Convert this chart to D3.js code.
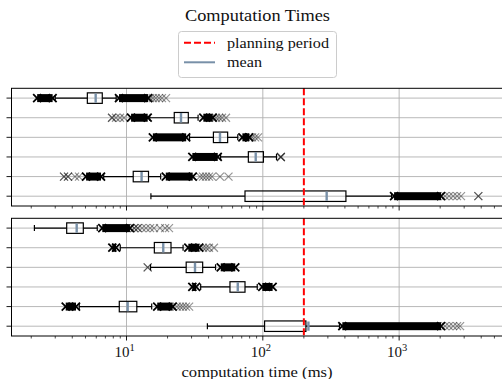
<!DOCTYPE html>
<html><head><meta charset="utf-8">
<script src="https://cdn.jsdelivr.net/npm/d3@7"></script>
<style>
html,body{margin:0;padding:0;background:#fff;}
svg text{font-family:"Liberation Serif","DejaVu Serif",serif;fill:#111;}
</style></head>
<body><svg id="chart" width="502" height="379"></svg>
<script>
// ---------- data ----------
const categories = ["c1", "c2", "c3", "c4", "c5", "c6"];
const planningPeriod = 200; // ms
const xDomain = [1.433, 5780];
const xTickValues = [10, 100, 1000];
const xTickLabels = ["1", "2", "3"]; // exponents of 10

// top panel
const topWhiskerLo = [3.0, 14.8, 29.0, 49, 6.8, 15.1];
const topQ1 = [5.16, 22.4, 43.4, 78.3, 11.2, 74.0];
const topMean = [5.94, 25.1, 48.5, 88.7, 12.9, 294];
const topQ3 = [6.64, 28.4, 55.2, 101, 14.5, 407];
const topWhiskerHi = [8.4, 33.5, 65.5, 126, 17.8, 880];
const topDenseOutliers = [
  [[2.21, 2.87], [8.81, 14.4]],
  [[10.8, 14.3], [36.6, 42.9]],
  [[15.6, 27.4], [70.8, 79.6]],
  [[30.4, 46.7]],
  [[5.05, 6.50], [19.4, 30.6]],
  [[918, 2028]]
];
const topSparseOutliers = [
  [14.9, 15.6, 16.4, 17.3, 18.2, 19.5],
  [7.83, 7.83, 8.37, 8.96, 9.59, 45.4, 47.8, 50.2, 53.7],
  [83.4, 87.8, 92.2],
  [135.5, 135.5, 135.5],
  [3.48, 3.48, 3.72, 3.72, 4.19, 4.48, 34.6, 36.4, 38.3, 40.3, 42.4, 48.5, 56.0],
  [2173, 2323, 2488, 2661, 2844, 3811, 3811]
];

// bottom panel
const botWhiskerLo = [2.11, 9.0, 15.0, 35, 4.5, 39.2];
const botQ1 = [3.64, 16.0, 27.4, 57.4, 8.85, 103];
const botMean = [4.31, 18.6, 31.8, 65.5, 10.2, 216];
const botQ3 = [4.82, 21.2, 36.2, 74.0, 11.9, 207];
const botWhiskerHi = [6.1, 26, 45, 91, 15.3, 365];
const botDenseOutliers = [
  [[6.64, 10.6]],
  [[7.87, 8.38], [28.4, 34.2]],
  [[49.1, 62.8]],
  [[30.4, 32.4], [99.1, 118]],
  [[3.58, 4.26], [16.8, 21.8]],
  [[383, 2028]]
];
const botSparseOutliers = [
  [11.4, 11.4, 12.1, 12.1, 13.0, 13.9, 14.9, 15.9, 17.6, 19.2, 20.5],
  [36.4, 38.3, 40.3, 43.8],
  [14.3, 14.3],
  [],
  [23.4, 24.7, 25.9, 27.3, 28.8],
  [2173, 2323, 2488, 2661, 2800]
];

// ---------- drawing ----------
const svg = d3.select("#chart");
const left = 11.5, right = 503;
const x = d3.scaleLog().domain(xDomain).range([left, right]);
const meanColor = "#7890a8";
const gridColor = "#b0b0b0";
const M = 4; // marker half-size

function panel(top, bottom, wLo, q1, mean, q3, wHi, dense, sparse, showLabels) {
  const g = svg.append("g");
  const y = d3.scalePoint().domain(categories).range([top, bottom]).padding(0.5);
  const boxH = 10.5, capH = 6;
  const rows = categories.map((c, i) => ({c, i}));

  g.selectAll(".vg").data(xTickValues).join("line")
    .attr("x1", d => x(d)).attr("x2", d => x(d)).attr("y1", top).attr("y2", bottom)
    .attr("stroke", gridColor).attr("stroke-width", 0.9);
  g.selectAll(".hg").data(categories).join("line")
    .attr("x1", left).attr("x2", right).attr("y1", d => y(d)).attr("y2", d => y(d))
    .attr("stroke", gridColor).attr("stroke-width", 0.9);

  const clipId = "clip" + Math.round(top);
  svg.append("clipPath").attr("id", clipId).append("rect")
    .attr("x", left).attr("y", top - 5).attr("width", right - left).attr("height", bottom - top + 10);
  const p = g.append("g").attr("clip-path", `url(#${clipId})`);

  rows.forEach(({c, i}) => {
    const cy = y(c);
    p.append("line").attr("x1", x(wLo[i])).attr("x2", x(q1[i])).attr("y1", cy).attr("y2", cy)
      .attr("stroke", "#000").attr("stroke-width", 1.2);
    p.append("line").attr("x1", x(q3[i])).attr("x2", x(wHi[i])).attr("y1", cy).attr("y2", cy)
      .attr("stroke", "#000").attr("stroke-width", 1.2);
    [wLo[i], wHi[i]].forEach(v => {
      p.append("line").attr("x1", x(v)).attr("x2", x(v)).attr("y1", cy - capH / 2).attr("y2", cy + capH / 2)
        .attr("stroke", "#000").attr("stroke-width", 1.2);
    });
    p.append("rect").attr("x", x(q1[i])).attr("y", cy - boxH / 2)
      .attr("width", x(q3[i]) - x(q1[i])).attr("height", boxH)
      .attr("fill", "none").attr("stroke", "#000").attr("stroke-width", 1.2);
    p.append("line").attr("x1", x(mean[i])).attr("x2", x(mean[i]))
      .attr("y1", cy - boxH / 2 + 0.6).attr("y2", cy + boxH / 2 - 0.6)
      .attr("stroke", meanColor).attr("stroke-width", 2.4);
    dense[i].forEach(([a, b]) => {
      p.append("rect").attr("x", x(a)).attr("y", cy - M).attr("width", x(b) - x(a)).attr("height", 2 * M)
        .attr("fill", "#000");
      [a, b].forEach(v => {
        const cx = x(v);
        p.append("path").attr("d", `M${cx - M},${cy - M}L${cx + M},${cy + M}M${cx - M},${cy + M}L${cx + M},${cy - M}`)
          .attr("stroke", "#000").attr("stroke-width", 1.8);
      });
    });
    sparse[i].forEach(v => {
      const cx = x(v);
      p.append("path").attr("d", `M${cx - M},${cy - M}L${cx + M},${cy + M}M${cx - M},${cy + M}L${cx + M},${cy - M}`)
        .attr("stroke", "#000").attr("stroke-opacity", 0.42).attr("stroke-width", 1.2);
    });
  });

  g.append("line").attr("x1", x(planningPeriod)).attr("x2", x(planningPeriod))
    .attr("y1", top).attr("y2", bottom)
    .attr("stroke", "#ff0000").attr("stroke-width", 2).attr("stroke-dasharray", "7,3");

  g.append("rect").attr("x", left).attr("y", top).attr("width", right - left).attr("height", bottom - top)
    .attr("fill", "none").attr("stroke", "#000").attr("stroke-width", 1);

  g.selectAll(".yt").data(categories).join("line")
    .attr("x1", left - 5).attr("x2", left).attr("y1", d => y(d)).attr("y2", d => y(d))
    .attr("stroke", "#000").attr("stroke-width", 0.9);

  const minor = [];
  [1, 10, 100, 1000].forEach(dec => { for (let k = 2; k <= 9; k++) { const v = dec * k; if (v >= xDomain[0] && v <= xDomain[1]) minor.push(v); } });
  g.selectAll(".mt").data(minor).join("line")
    .attr("x1", d => x(d)).attr("x2", d => x(d)).attr("y1", bottom).attr("y2", bottom + 2.5)
    .attr("stroke", "#000").attr("stroke-width", 0.7);
  g.selectAll(".Mt").data(xTickValues).join("line")
    .attr("x1", d => x(d)).attr("x2", d => x(d)).attr("y1", bottom).attr("y2", bottom + 4.5)
    .attr("stroke", "#000").attr("stroke-width", 0.9);

  if (showLabels) {
    xTickValues.forEach((v, i) => {
      const t = g.append("text").attr("x", x(v) - 2).attr("y", bottom + 21)
        .attr("text-anchor", "middle").attr("font-size", 15);
      t.append("tspan").text("10");
      t.append("tspan").attr("dy", -6).attr("font-size", 10.5).text(xTickLabels[i]);
    });
  }
}

panel(88.3, 206, topWhiskerLo, topQ1, topMean, topQ3, topWhiskerHi, topDenseOutliers, topSparseOutliers, false);
panel(218.3, 336, botWhiskerLo, botQ1, botMean, botQ3, botWhiskerHi, botDenseOutliers, botSparseOutliers, true);

function stretched(sel, width) {
  return sel.attr("textLength", width).attr("lengthAdjust", "spacingAndGlyphs");
}

stretched(svg.append("text").attr("x", 257).attr("y", 377).attr("text-anchor", "middle")
  .attr("font-size", 15).text("computation time (ms)"), 151);

stretched(svg.append("text").attr("x", 257.5).attr("y", 21).attr("text-anchor", "middle")
  .attr("font-size", 16).text("Computation Times"), 145);

const lg = svg.append("g");
lg.append("rect").attr("x", 178.5).attr("y", 31.5).attr("width", 158).attr("height", 46).attr("rx", 3)
  .attr("fill", "#fff").attr("fill-opacity", 0.8).attr("stroke", "#cccccc").attr("stroke-width", 1);
lg.append("line").attr("x1", 184).attr("x2", 215).attr("y1", 42.7).attr("y2", 42.7)
  .attr("stroke", "#ff0000").attr("stroke-width", 2).attr("stroke-dasharray", "7,3");
lg.append("line").attr("x1", 184).attr("x2", 215).attr("y1", 62.3).attr("y2", 62.3)
  .attr("stroke", meanColor).attr("stroke-width", 2);
stretched(lg.append("text").attr("x", 227).attr("y", 47.5).attr("font-size", 15).text("planning period"), 102);
stretched(lg.append("text").attr("x", 227).attr("y", 67).attr("font-size", 15).text("mean"), 35);
</script></body></html>
